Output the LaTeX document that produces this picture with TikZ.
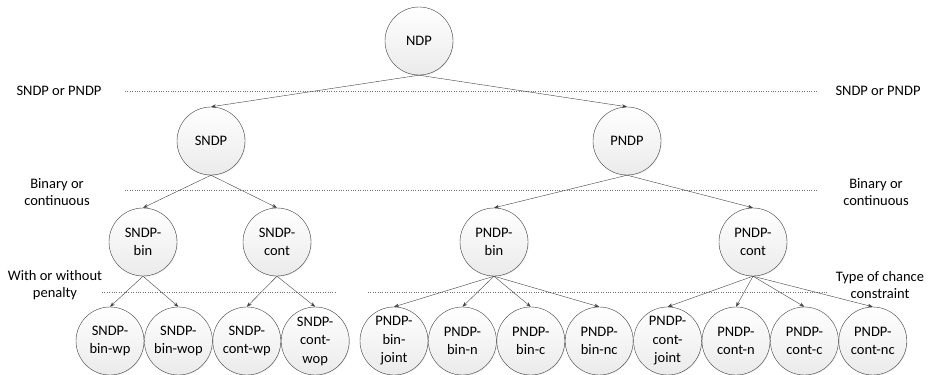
\documentclass[tikz,border=0pt]{standalone}
\usepackage{fontspec}
\setmainfont{Carlito}
\usetikzlibrary{arrows.meta,positioning,shadows}

\begin{document}
\begin{tikzpicture}[
    x=1pt, y=-1pt,
    node distance=0pt,
    probnode/.style={circle, draw=black!75, top color=white, bottom color=black!8, minimum size=68pt, inner sep=0pt, align=center, font=\fontsize{14.5}{18.5}\selectfont, drop shadow={opacity=0.15, shadow xshift=0.8pt, shadow yshift=-0.8pt}},
    levellabel/.style={align=center, font=\fontsize{14.5}{17.5}\selectfont},
    guide/.style={dotted, black!55, thin},
    arrow/.style={->, >={Stealth[length=5pt, width=3.6pt]}, thin, color=black!75}
]
    \useasboundingbox (0,0) rectangle (930,375);

    % level separators
    \draw[guide] (125,91) -- (817,91);
    \draw[guide] (125,190) -- (817,190);
    \draw[guide] (102,292) -- (335,292);
    \draw[guide] (368,292) -- (827,292);

    \node[levellabel] (l1a) at (59,91) {SNDP or PNDP};
    \node[levellabel] (l1b) at (878,91) {SNDP or PNDP};
    \node[levellabel] (l2a) at (57,192) {Binary or\\continuous};
    \node[levellabel] (l2b) at (876,192) {Binary or\\continuous};
    \node[levellabel] (l3a) at (55,285) {With or without\\penalty};
    \node[levellabel] (l3b) at (880,285) {Type of chance\\constraint};

    % tree
    \node[probnode] (ndp) at (419,41) {NDP};
    \node[probnode] (sndp) at (211,141) {SNDP};
    \node[probnode] (pndp) at (627,141) {PNDP};

    \node[probnode] (sbin) at (143,242) {SNDP-\\bin};
    \node[probnode] (scont) at (277,242) {SNDP-\\cont};
    \node[probnode] (pbin) at (494,242) {PNDP-\\bin};
    \node[probnode] (pcont) at (753,242) {PNDP-\\cont};

    \node[probnode] (sbwp) at (110,341) {SNDP-\\bin-wp};
    \node[probnode, right=of sbwp] (sbwop) {SNDP-\\bin-wop};
    \node[probnode, right=of sbwop] (scwp) {SNDP-\\cont-wp};
    \node[probnode, right=of scwp] (scwop) {SNDP-\\cont-\\wop};

    \node[probnode] (pbj) at (394,341) {PNDP-\\bin-\\joint};
    \node[probnode, right=of pbj] (pbn) {PNDP-\\bin-n};
    \node[probnode, right=of pbn] (pbc) {PNDP-\\bin-c};
    \node[probnode, right=of pbc] (pbnc) {PNDP-\\bin-nc};
    \node[probnode, right=of pbnc] (pcj) {PNDP-\\cont-\\joint};
    \node[probnode, right=of pcj] (pcn) {PNDP-\\cont-n};
    \node[probnode, right=of pcn] (pcc) {PNDP-\\cont-c};
    \node[probnode, right=of pcc] (pcnc) {PNDP-\\cont-nc};

    \draw[arrow] (ndp.south) -- (sndp.north);
    \draw[arrow] (ndp.south) -- (pndp.north);

    \draw[arrow] (sndp.south) -- (sbin.north);
    \draw[arrow] (sndp.south) -- (scont.north);
    \draw[arrow] (pndp.south) -- (pbin.north);
    \draw[arrow] (pndp.south) -- (pcont.north);

    \foreach \c in {sbwp,sbwop} \draw[arrow] (sbin.south) -- (\c.north);
    \foreach \c in {scwp,scwop} \draw[arrow] (scont.south) -- (\c.north);
    \foreach \c in {pbj,pbn,pbc,pbnc} \draw[arrow] (pbin.south) -- (\c.north);
    \foreach \c in {pcj,pcn,pcc,pcnc} \draw[arrow] (pcont.south) -- (\c.north);
\end{tikzpicture}
\end{document}
